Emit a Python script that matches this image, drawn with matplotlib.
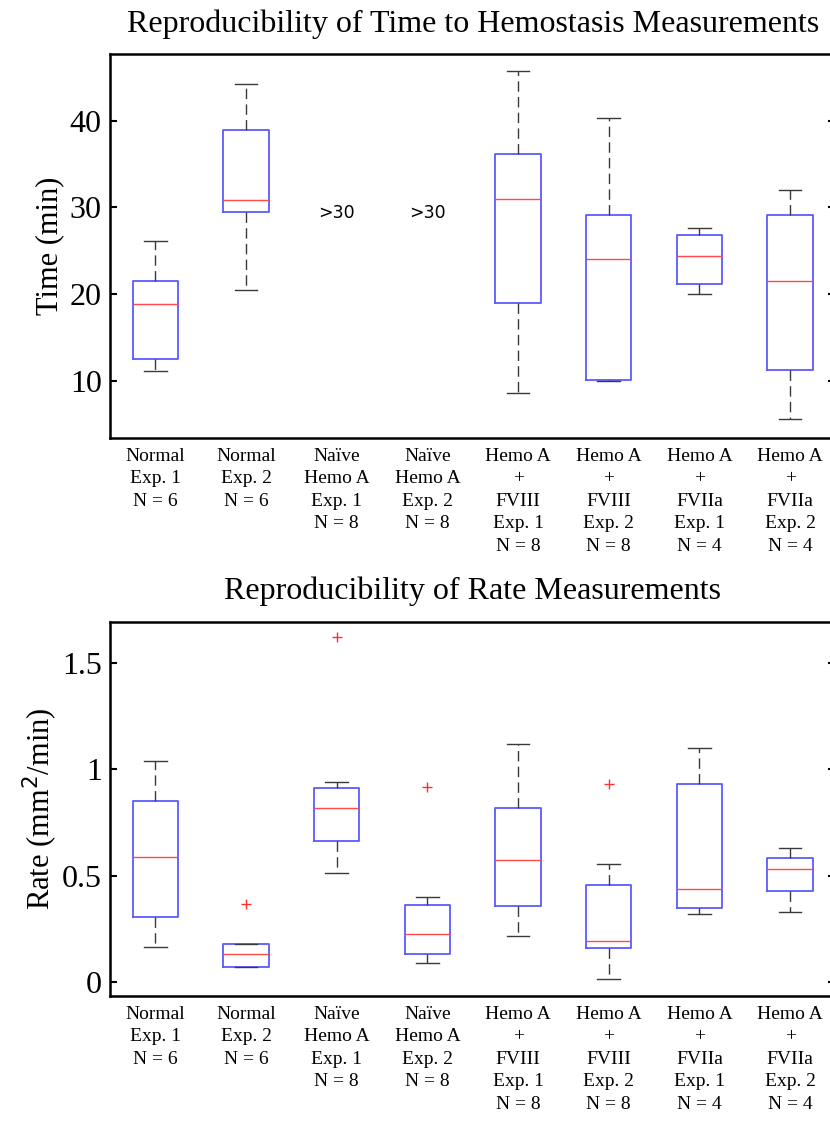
import matplotlib
matplotlib.use("Agg")
import matplotlib.pyplot as plt

plt.rcParams["font.family"] = ["Liberation Serif", "DejaVu Serif"]
plt.rcParams["lines.scale_dashes"] = False

group_labels = [
    "Normal\nExp. 1\nN = 6",
    "Normal\nExp. 2\nN = 6",
    "Naïve\nHemo A\nExp. 1\nN = 8",
    "Naïve\nHemo A\nExp. 2\nN = 8",
    "Hemo A\n+\nFVIII\nExp. 1\nN = 8",
    "Hemo A\n+\nFVIII\nExp. 2\nN = 8",
    "Hemo A\n+\nFVIIa\nExp. 1\nN = 4",
    "Hemo A\n+\nFVIIa\nExp. 2\nN = 4",
]

# time to hemostasis (min); naive groups never stopped within 30 min
time_groups = [1, 2, 5, 6, 7, 8]
time_whislo = [11.15, 20.46, 8.58, 10.0, 20.0, 5.58]
time_q1 = [12.5, 29.5, 19.0, 10.04, 21.22, 11.19]
time_med = [18.9, 30.85, 31.0, 24.04, 24.38, 21.53]
time_q3 = [21.5, 38.95, 36.2, 29.07, 26.84, 29.07]
time_whishi = [26.1, 44.2, 45.75, 40.37, 27.68, 32.0]
censored_groups = [3, 4]
censored_text = ">30"
censored_value = 29.3

# bleeding rate (mm^2/min)
rate_groups = [1, 2, 3, 4, 5, 6, 7, 8]
rate_whislo = [0.166, 0.072, 0.512, 0.091, 0.219, 0.017, 0.321, 0.329]
rate_q1 = [0.307, 0.072, 0.663, 0.134, 0.36, 0.16, 0.349, 0.429]
rate_med = [0.588, 0.134, 0.82, 0.227, 0.574, 0.195, 0.438, 0.532]
rate_q3 = [0.853, 0.181, 0.912, 0.364, 0.818, 0.458, 0.932, 0.584]
rate_whishi = [1.036, 0.181, 0.939, 0.399, 1.117, 0.557, 1.099, 0.63]
rate_outliers = [[], [0.368], [1.62], [0.915], [], [0.93], [], []]


def make_stats(whislo, q1, med, q3, whishi, fliers=None):
    stats = []
    for i in range(len(med)):
        stats.append({
            "whislo": whislo[i], "q1": q1[i], "med": med[i],
            "q3": q3[i], "whishi": whishi[i],
            "fliers": fliers[i] if fliers else [],
        })
    return stats


def draw_boxes(ax, stats, positions):
    ax.bxp(
        stats, positions=positions, widths=0.5, capwidths=0.25,
        showfliers=True, patch_artist=False,
        boxprops=dict(color="#5a5aff", linewidth=1.3),
        medianprops=dict(color="#ff4a4a", linewidth=1.0),
        whiskerprops=dict(color="#3a3a3a", linewidth=1.0, linestyle=(0, (7.5, 3.8))),
        capprops=dict(color="#3a3a3a", linewidth=1.0),
        flierprops=dict(marker="+", markeredgecolor="#ff3030", markersize=7,
                        markeredgewidth=1.0, linestyle="none"),
    )


def style_axes(ax, title, ylabel, yticks, yticklabels, ylim, labelpad):
    ax.set_xlim(0.5, 8.5)
    ax.set_ylim(*ylim)
    ax.set_xticks(range(1, 9))
    ax.set_xticklabels(group_labels, fontsize=14, linespacing=1.42, va="top")
    ax.set_yticks(yticks)
    ax.set_yticklabels(yticklabels, fontsize=23)
    ax.tick_params(axis="x", length=0, pad=7)
    ax.tick_params(axis="y", direction="in", length=5, width=1.5,
                   left=True, right=True, pad=6)
    for spine in ax.spines.values():
        spine.set_linewidth(1.8)
    ax.set_title(title, fontsize=23, pad=16)
    ax.set_ylabel(ylabel, fontsize=22, labelpad=labelpad)


fig = plt.figure(figsize=(8.3, 11.25), dpi=100)

ax_time = fig.add_axes([0.1325, 0.6107, 0.8741, 0.3413])
draw_boxes(ax_time, make_stats(time_whislo, time_q1, time_med, time_q3, time_whishi), time_groups)
for g in censored_groups:
    ax_time.text(g, censored_value, censored_text, ha="center", va="center",
                 fontsize=12.5, family="DejaVu Sans")
style_axes(ax_time, "Reproducibility of Time to Hemostasis Measurements", "Time (min)",
           [10, 20, 30, 40], ["10", "20", "30", "40"], (3.4, 47.7), 4)

ax_rate = fig.add_axes([0.1325, 0.1147, 0.8741, 0.3327])
draw_boxes(ax_rate, make_stats(rate_whislo, rate_q1, rate_med, rate_q3, rate_whishi, rate_outliers), rate_groups)
style_axes(ax_rate, "Reproducibility of Rate Measurements", "Rate (mm$^2$/min)",
           [0, 0.5, 1, 1.5], ["0", "0.5", "1", "1.5"], (-0.064, 1.692), 1)

fig.savefig("out.png", dpi=100, facecolor="white")
